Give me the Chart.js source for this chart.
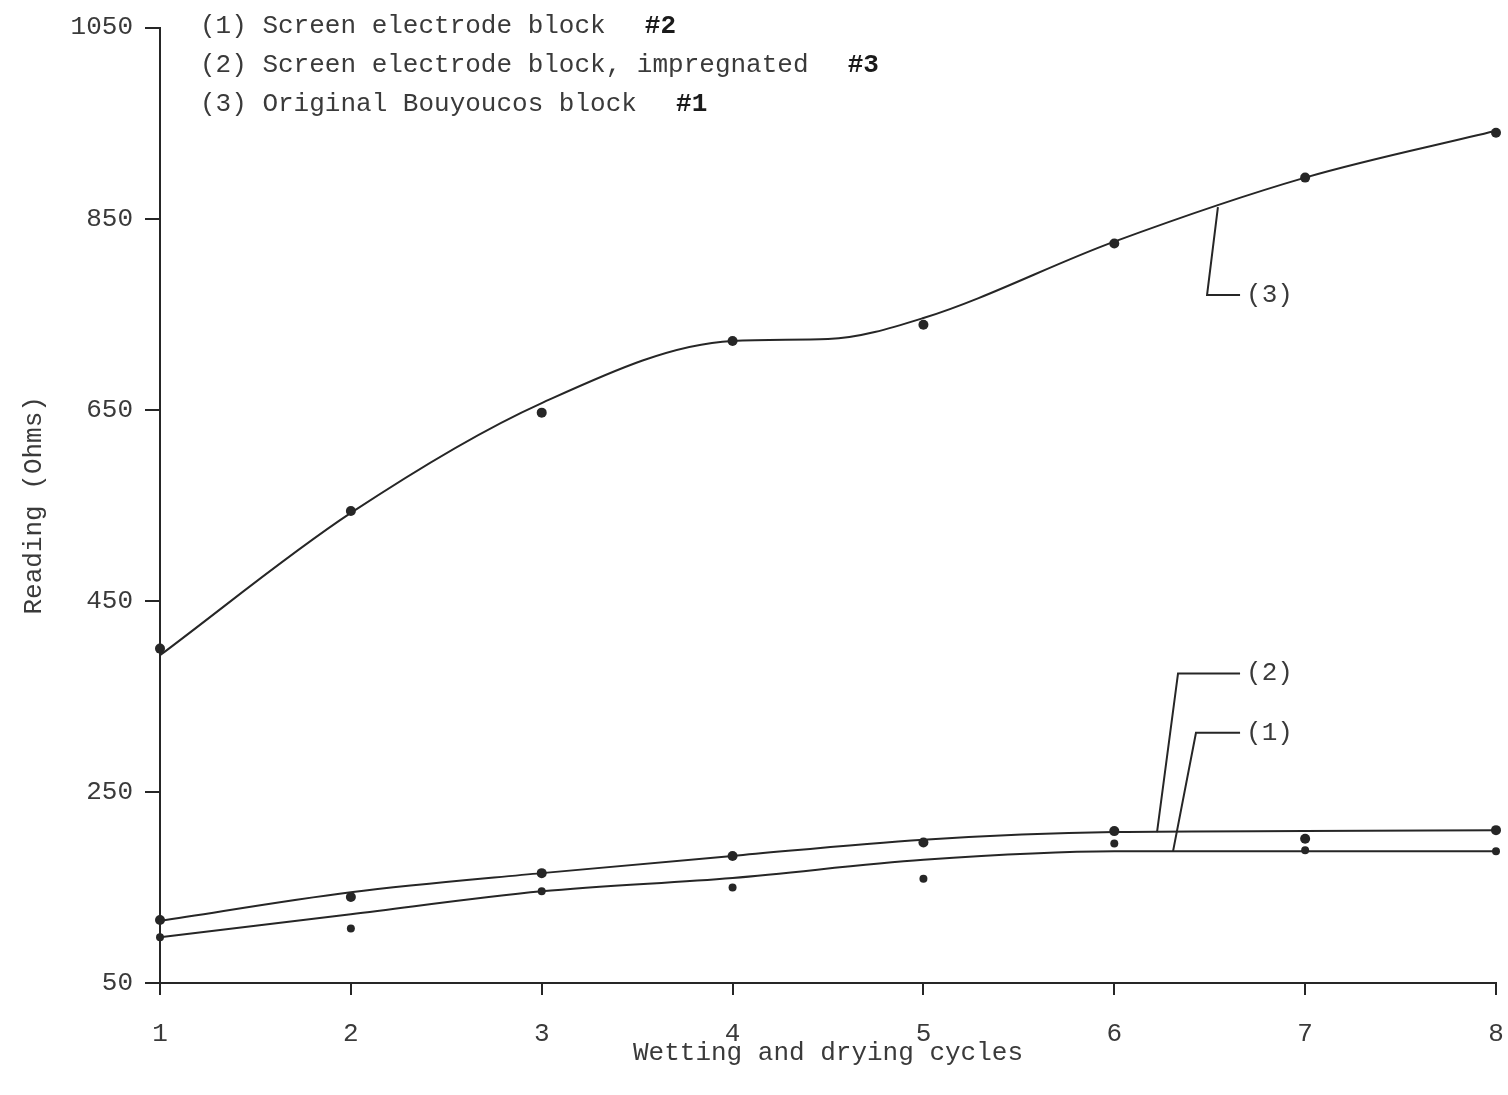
<!DOCTYPE html>
<html>
<head>
<meta charset="utf-8">
<title>Reading (Ohms) vs wetting and drying cycles</title>
<script src="https://cdn.jsdelivr.net/npm/chart.js@4.4.1/dist/chart.umd.min.js"></script>
<style>
  html, body { margin: 0; padding: 0; background: #fff; }
  canvas { display: block; }
</style>
</head>
<body>
<canvas id="readingChart" width="1508" height="1095"></canvas>
<script>
// Measured readings per cycle
const cycles = [1, 2, 3, 4, 5, 6, 7, 8];
const screenBlock = [98, 107, 146, 150, 159, 196, 189, 188];         // (1) #2
const screenImpregnated = [116, 140, 165, 183, 197, 209, 201, 210];  // (2) #3
const bouyoucosBlock = [400, 544, 647, 722, 739, 824, 893, 940];     // (3) #1

// Hand-drawn smooth curves
const screenCurve = [98, 122, 146, 160, 179, 188, 188, 188];
const impregnatedCurve = [115, 145, 165, 183, 200, 208, 209, 210];
const bouyoucosCurveX = [1, 2, 3, 4, 4.5, 5, 6, 7, 8];
const bouyoucosCurve = [393, 542, 657, 722, 724, 746, 826, 893, 942];

const seriesNames = [
  "(1) Screen electrode block",
  "(2) Screen electrode block, impregnated",
  "(3) Original Bouyoucos block"
];
const blockNumbers = ["#2", "#3", "#1"];
const yTicks = [50, 250, 450, 650, 850, 1050];

const INK = "#262626";
const TEXT = "#3a3a3a";
const MONO = "'Liberation Mono', 'DejaVu Sans Mono', monospace";

function pairs(xs, ys) {
  return xs.map((x, i) => ({ x: x, y: ys[i] }));
}

// legend text at top and the (1)(2)(3) leader labels
const notesPlugin = {
  id: "notes",
  afterDraw(chart) {
    const ctx = chart.ctx;
    const xs = chart.scales.x;
    const ys = chart.scales.y;
    ctx.save();
    ctx.fillStyle = TEXT;
    ctx.textBaseline = "middle";
    ctx.textAlign = "left";

    seriesNames.forEach((name, i) => {
      const y = 26 + i * 39;
      ctx.font = "26px " + MONO;
      ctx.fillText(name, 200, y);
      const w = ctx.measureText(name + "  ").width;
      ctx.font = "bold 26px " + MONO;
      ctx.fillStyle = "#1a1a1a";
      ctx.fillText(blockNumbers[i], 200 + w + 8, y);
      ctx.fillStyle = TEXT;
    });

    const leaders = [
      { text: "(3)", pts: [[6.543, 862], [6.486, 770], [6.659, 770]] },
      { text: "(2)", pts: [[6.224, 208], [6.334, 374], [6.659, 374]] },
      { text: "(1)", pts: [[6.308, 188], [6.428, 312], [6.659, 312]] }
    ];
    ctx.strokeStyle = INK;
    ctx.lineWidth = 2;
    ctx.font = "26px " + MONO;
    leaders.forEach(l => {
      ctx.beginPath();
      l.pts.forEach((p, i) => {
        const px = xs.getPixelForValue(p[0]);
        const py = ys.getPixelForValue(p[1]);
        if (i === 0) ctx.moveTo(px, py); else ctx.lineTo(px, py);
      });
      ctx.stroke();
      const last = l.pts[l.pts.length - 1];
      ctx.fillText(l.text, xs.getPixelForValue(last[0]) + 6, ys.getPixelForValue(last[1]));
    });
    ctx.restore();
  }
};

const curveStyle = {
  type: "line",
  borderColor: INK,
  borderWidth: 2,
  pointRadius: 0,
  cubicInterpolationMode: "monotone",
  fill: false
};
const dotStyle = {
  type: "scatter",
  showLine: false,
  pointRadius: 5,
  pointBackgroundColor: INK,
  pointBorderColor: INK,
  pointBorderWidth: 0
};

new Chart(document.getElementById("readingChart"), {
  data: {
    datasets: [
      Object.assign({ label: "fit 1", data: pairs(cycles, screenCurve) }, curveStyle),
      Object.assign({ label: "fit 2", data: pairs(cycles, impregnatedCurve) }, curveStyle),
      Object.assign({ label: "fit 3", data: pairs(bouyoucosCurveX, bouyoucosCurve) }, curveStyle),
      Object.assign({ label: seriesNames[0], data: pairs(cycles, screenBlock) }, dotStyle, { pointRadius: 4 }),
      Object.assign({ label: seriesNames[1], data: pairs(cycles, screenImpregnated) }, dotStyle),
      Object.assign({ label: seriesNames[2], data: pairs(cycles, bouyoucosBlock) }, dotStyle)
    ]
  },
  options: {
    responsive: false,
    animation: false,
    clip: false,
    layout: { padding: { top: 27, right: 0, bottom: 0, left: 0 } },
    plugins: {
      legend: { display: false },
      tooltip: { enabled: false }
    },
    scales: {
      x: {
        type: "linear",
        min: 1,
        max: 8,
        afterBuildTicks: s => { s.ticks = cycles.map(v => ({ value: v })); },
        afterFit: s => { s.height = 112; s.paddingRight = 12; s.paddingLeft = 0; },
        grid: { drawOnChartArea: false, drawTicks: true, tickLength: 12, color: INK, lineWidth: 2 },
        border: { display: true, color: INK, width: 2 },
        ticks: { color: TEXT, padding: 24, font: { family: MONO, size: 26 }, callback: v => String(v) },
        title: {
          display: true,
          text: "Wetting and drying cycles",
          color: TEXT,
          padding: { top: 0, bottom: 26 },
          font: { family: MONO, size: 26 }
        }
      },
      y: {
        type: "linear",
        min: 50,
        max: 1050,
        afterBuildTicks: s => { s.ticks = yTicks.map(v => ({ value: v })); },
        afterFit: s => { s.width = 160; },
        grid: { drawOnChartArea: false, drawTicks: true, tickLength: 15, color: INK, lineWidth: 2 },
        border: { display: true, color: INK, width: 2 },
        ticks: { color: TEXT, padding: 12, font: { family: MONO, size: 26 }, callback: v => String(v) },
        title: {
          display: true,
          text: "Reading (Ohms)",
          color: TEXT,
          padding: { top: 19, bottom: 0 },
          font: { family: MONO, size: 26 }
        }
      }
    }
  },
  plugins: [notesPlugin]
});
</script>
</body>
</html>
